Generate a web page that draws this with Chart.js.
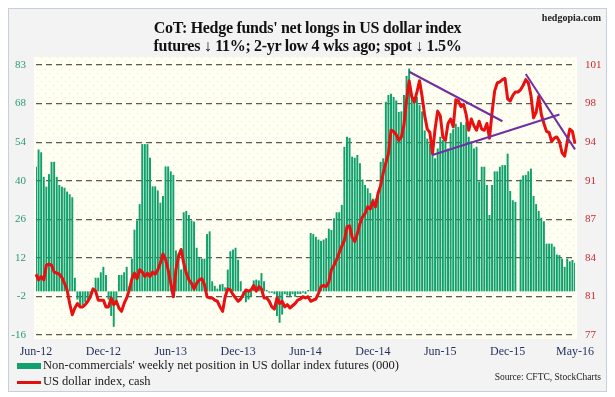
<!DOCTYPE html>
<html>
<head>
<meta charset="utf-8">
<script src="https://cdn.jsdelivr.net/npm/chart.js@4/dist/chart.umd.min.js"></script>
<style>
  html, body { margin: 0; padding: 0; background: #ffffff; }
  #wrap { position: relative; width: 615px; height: 397px; overflow: hidden; font-family: "Liberation Serif", "DejaVu Serif", serif; }
  #frame { position: absolute; left: 8px; top: 8px; width: 597px; height: 382px; border: 1px solid #c6d0dc; background: #f3f3f3; }
  #chart { position: absolute; left: 0; top: 0; }
  #title { position: absolute; left: 0; width: 615px; top: 19px; text-align: center; font-weight: bold; font-size: 16px; letter-spacing: -0.3px; line-height: 18px; color: #111; }
  #brand { position: absolute; right: 14px; top: 12px; font-weight: bold; font-size: 10px; color: #222; }
  .leg { position: absolute; left: 17px; font-size: 12.5px; color: #1a1a1a; white-space: nowrap; }
  .sw { display: inline-block; width: 24px; vertical-align: middle; margin-right: 2px; }
  #source { position: absolute; right: 14px; top: 372px; font-size: 9.5px; color: #222; }
</style>
</head>
<body>
<div id="wrap">
  <div id="frame"></div>
  <canvas id="chart" width="615" height="397"></canvas>
  <div id="title">CoT: Hedge funds' net longs in US dollar index<br>futures ↓ 11%; 2-yr low 4 wks ago; spot ↓ 1.5%</div>
  <div id="brand">hedgopia.com</div>
  <div class="leg" style="top:358px"><span class="sw" style="height:6px;background:#12a06e"></span>Non-commercials' weekly net position in US dollar index futures (000)</div>
  <div class="leg" style="top:374px"><span class="sw" style="height:3px;background:#e01010"></span>US dollar index, cash</div>
  <div id="source">Source: CFTC, StockCharts</div>
</div>
<script>
// x-axis tick labels, one every 26 weeks
const xTickLabels = ['Jun-12', 'Dec-12', 'Jun-13', 'Dec-13', 'Jun-14', 'Dec-14', 'Jun-15', 'Dec-15', 'May-16'];
const leftTickLabels = ['-16', '-2', '12', '26', '40', '54', '68', '83'];
const rightTickLabels = ['77', '81', '84', '87', '91', '94', '98', '101'];

// non-commercials net position (000), weekly
const netPosition = [
  45.7, 52, 51, 42, 38.4, 43, 47.5, 47.5, 42, 39, 38.4, 38, 36.6, 35.6, 34.5, 5,
  -3, -6, -5, -4, -3, -2, 1, 5, 5, 7, 9, 6, -3, -9, -13, -5, 6, 6, 7, 9,
  2, 12, 22.6, 26, 32, 54, 54, 54, 49, 38.5, 38.5, 37, 32.5, 35, 45.8, 45.8, 44, 42.7, 15, 14, 8,
  29, 29.5, 28, 26, 25.6, 16, 12.5, 12, 12, 21, 22,
  3.7, 2, 1, 2.5, 2.7, 1.5, 8, 14.7, 15.3, 16, 11.6, 3.7,
  -2.4, -4, -3, -2, 4, 4.3, 4, 6.7, 3.7, 0.5, -0.5, -0.5, -1, -9, -11.5, -8.5, -1, -1.5, -2, -1, -2, -1, -1, -0.5, -1, 0.5,
  21.4, 21, 20, 19, 18.5, 19, 19.5, 23, 22.5, 26.8, 29, 29, 31.7, 53,
  56.7, 56.3, 49.4, 49, 50, 47, 41, 39, 37.8, 36, 34, 34, 36.5, 47.5, 48.8, 69.5, 72, 72.5, 71.3, 70, 65.8, 66, 72, 79, 81.7,
  72, 71.3, 71.3, 68.3, 66, 59, 56, 54, 50, 48.8, 52.4, 56.7, 55.5, 55, 52.4, 58, 59.5, 61.5, 60.3, 62, 61, 62, 56.7, 55, 52.4, 53,
  40.2, 45.7, 45.7, 39, 28, 39, 44, 44, 45.7, 46.3, 46.3, 50.5, 36.8, 33.4, 32.8, null,
  41, 42.5, 42.7, 44, 45, 35, 32, 29.5, 27, 25.7, 17.5, 17.5, 17.5, 16.4, 13.5, 13.3, 12, 9, 12, 11, 11.5, 10.5
];

// US dollar index, cash, weekly
const dollarIndex = [
  82.4, 81.9, 82.2, 81.9, 83.2, 83.3, 83.2, 82.6, 82.5, 82.4, 82.1, 81.6, 81, 79.8, 78.8, 79.4,
  79.8, 79.5, 79.5, 79.7, 80, 80.4, 81.1, 80.9, 80.1, 80.1, 80.1, 79.5, 79.5, 80.3, 79.7, 80, 79.4, 79.1, 79.8, 80.3,
  81, 82, 82.5, 82, 82.8, 82.6, 82.2, 82.5, 82.2, 82.6, 82.4, 82.8, 83.4, 84.2, 83.7, 82.8, 81.6, 80.4, 82.8, 84, 84.6,
  83.4, 82.5, 81.9, 81.6, 81.1, 81.6, 81.9, 82, 81.5, 80.4, 80.3,
  80.3, 80.1, 80, 79.5, 79.1, 80.4, 81.1, 81, 80.6, 80.3, 80, 80.2,
  80.6, 81, 80.9, 81, 81.4, 80.9, 81.3, 81.1, 80.3, 80.3, 80, 79.5, 79.3, 80.3, 79.8, 80, 79.5, 79.7, 79.4, 79.6, 79.8, 80.1, 80.2, 80.4, 80.3, 80.4,
  80, 80.1, 80.2, 80.7, 81.3, 81.4, 81.3, 81.7, 82.8, 83.2, 83.7, 84.3, 84.9, 85.4,
  86.6, 86.7, 85.7, 85.3, 86, 86.9, 87.5, 87.8, 88.4, 88.2, 88.9, 88.4, 89.6, 90.3, 91.4, 92.3, 93.1, 95.2, 95.1, 94.8, 94.3, 94.6, 95.7, 97.9, 99.6,
  98.2, 97.7, 98.6, 99.6, 98.2, 96.5, 95.3,
  95, 93.1, 95.3, 96.9, 96.5, 94.6, 94.3, 95.8, 96.2, 95.5, 97.9, 97.8, 97.3, 97.5, 96.6, 95.2, 96.2, 95.6, 95.2,
  96, 95.3, 95.2, 95.8, 94.5, 96.8, 98.7, 99.4, 99.5, 99.7, 99.8, 98, 97.8, 98.3, 98.6, 98.6, 98.8, 99.2, 99.7, 99.4,
  98.3, 96.3, 96.8, 98.2, 96.6, 95.8, 95.1, 95, 94.2, 94.5, 94.6, 94.2, 93.2, 92.9, 94.2, 95.3, 95.1, 94
];

// hand-drawn trend lines on the dollar index: [week index, value] end points
const trendTop = [[144, 100.4], [180, 96.0]];
const trendBottom = [[153, 93.0], [202, 96.6]];
const trendRecent = [[189, 100.2], [208, 93.5]];

const weeks = netPosition.map((v, i) => String(i));

function trendSeries(ends) {
  const arr = weeks.map(() => null);
  ends.forEach(([i, v]) => { arr[i] = v; });
  return arr;
}

// dotted cream plot background
function makeDots(ctx) {
  const p = document.createElement('canvas');
  p.width = 8; p.height = 8;
  const c = p.getContext('2d');
  c.fillStyle = '#fffff3';
  c.fillRect(0, 0, 8, 8);
  c.fillStyle = '#f1eba8';
  c.fillRect(1, 1, 1, 1);
  c.fillRect(5, 5, 1, 1);
  return ctx.createPattern(p, 'repeat');
}

const plotBackground = {
  id: 'plotBackground',
  beforeDraw(chart) {
    const { ctx, chartArea } = chart;
    ctx.save();
    ctx.fillStyle = makeDots(ctx);
    ctx.fillRect(chartArea.left - 2, chartArea.top - 8, chartArea.right - chartArea.left + 4, chartArea.bottom - chartArea.top + 12);
    ctx.restore();
  }
};

new Chart(document.getElementById('chart'), {
  type: 'bar',
  data: {
    labels: weeks,
    datasets: [
      {
        label: 'Trend top', type: 'line', data: trendSeries(trendTop), yAxisID: 'y2',
        borderColor: '#7030a0', borderWidth: 2, pointRadius: 0, spanGaps: true, order: 0
      },
      {
        label: 'Trend bottom', type: 'line', data: trendSeries(trendBottom), yAxisID: 'y2',
        borderColor: '#7030a0', borderWidth: 2, pointRadius: 0, spanGaps: true, order: 0
      },
      {
        label: 'Trend recent', type: 'line', data: trendSeries(trendRecent), yAxisID: 'y2',
        borderColor: '#7030a0', borderWidth: 2, pointRadius: 0, spanGaps: true, order: 0
      },
      {
        label: 'US dollar index, cash', type: 'line', data: dollarIndex, yAxisID: 'y2',
        borderColor: '#e81010', borderWidth: 3, pointRadius: 0, tension: 0,
        borderJoinStyle: 'round', order: 1
      },
      {
        label: "Non-commercials' weekly net position in US dollar index futures (000)",
        data: netPosition, yAxisID: 'y',
        backgroundColor: '#10a06c', barPercentage: 0.75, categoryPercentage: 1, order: 2
      }
    ]
  },
  options: {
    responsive: false,
    animation: false,
    layout: { padding: { top: 65, left: 0, right: 0, bottom: 0 } },
    plugins: { legend: { display: false }, tooltip: { enabled: false } },
    scales: {
      x: {
        offset: false,
        grid: { display: false },
        border: { display: false },
        ticks: {
          autoSkip: false, maxRotation: 0, padding: 2,
          color: '#1f2d5c', font: { family: 'Liberation Serif', size: 12 },
          callback: (v, i) => (i % 26 === 0 ? xTickLabels[i / 26] : null)
        },
        afterFit: (s) => { s.height = 62; }
      },
      y: {
        position: 'left', min: -16, max: 83,
        afterBuildTicks: (s) => { s.ticks = leftTickLabels.map((t, k) => ({ value: -16 + k * 99 / 7 })); },
        grid: { color: '#5a5a5a', lineWidth: 1.2, drawTicks: false },
        border: { display: false, dash: [6, 4] },
        ticks: {
          padding: 10, color: '#2a9a6e', font: { family: 'Liberation Serif', size: 11 },
          callback: (v, i) => leftTickLabels[i]
        },
        afterFit: (s) => { s.width = 36; }
      },
      y2: {
        position: 'right', min: 77, max: 101,
        afterBuildTicks: (s) => { s.ticks = rightTickLabels.map((t, k) => ({ value: 77 + k * 24 / 7 })); },
        grid: { drawOnChartArea: false, drawTicks: false },
        border: { display: false },
        ticks: {
          padding: 10, color: '#cc2a2a', font: { family: 'Liberation Serif', size: 11 },
          callback: (v, i) => rightTickLabels[i]
        },
        afterFit: (s) => { s.width = 40; }
      }
    }
  },
  plugins: [plotBackground]
});
</script>
</body>
</html>
